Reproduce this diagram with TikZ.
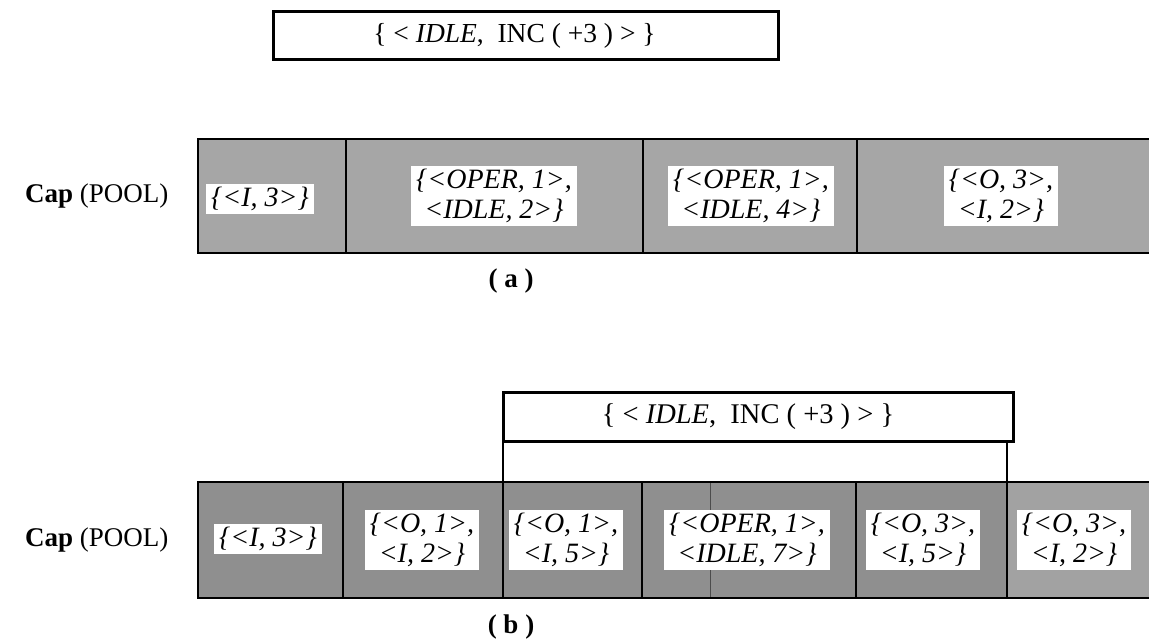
\documentclass[tikz,border=0pt]{standalone}
\usepackage{fontspec}
\setmainfont{Liberation Serif}
\definecolor{fillA}{HTML}{A6A6A6}
\definecolor{fillB}{HTML}{8F8F8F}
\definecolor{fillC}{HTML}{A2A2A2}
\begin{document}
\begin{tikzpicture}[x=1pt,y=-1pt,
  opbox/.style={draw=black,line width=3pt,fill=white,inner sep=0pt},
  boxtext/.style={inner sep=0pt},
  lbl/.style={fill=white,inner xsep=5pt,inner ysep=3pt,align=center,
    font=\fontsize{28}{30}\selectfont\itshape},
  barline/.style={line width=2.8pt,line cap=rect},
  thinline/.style={line width=1.5pt},
  caplabel/.style={font=\fontsize{27}{30}\selectfont,anchor=east},
  sublabel/.style={font=\fontsize{27}{30}\selectfont\bfseries}]
\useasboundingbox (0,0) rectangle (1149,644);

% ---------- (a) ----------
\node[opbox,minimum width=505pt,minimum height=48pt] (ta) at (525.5,36) {};
\node[boxtext,font=\fontsize{27.5}{30}\selectfont] (tat) at ([xshift=-11pt]ta.center)
  {\{ < \textit{IDLE},\ \ INC ( +3 ) > \}};

\fill[fillA] (198,139) rectangle (1149,253);
\draw[barline] (1149,139) -- (198,139) -- (198,253) -- (1149,253);
\foreach \x in {346,643,857} \draw[barline] (\x,139) -- (\x,253);

\node[caplabel] (capa) at (172,196) {\textbf{Cap} (POOL)};
\node[lbl] (a1) at (260,199) {\{<I, 3>\}};
\node[lbl] (a2) at (494,196) {\{<OPER, 1>,\\ <IDLE, 2>\}};
\node[lbl] (a3) at (751,196) {\{<OPER, 1>,\\ <IDLE, 4>\}};
\node[lbl] (a4) at (1001,196) {\{<O, 3>,\\ <I, 2>\}};
\node[sublabel] (la) at (511,281) {( a )};

% ---------- (b) ----------
\node[opbox,minimum width=510pt,minimum height=49pt] (tb) at (758,416.5) {};
\node[boxtext,font=\fontsize{28.5}{30}\selectfont] (tbt) at ([xshift=-10pt]tb.center)
  {\{ < \textit{IDLE},\ \ INC ( +3 ) > \}};

\fill[fillB] (198,482) rectangle (1007,598);
\fill[fillC] (1007,482) rectangle (1149,598);
\draw[line width=1pt,black!70] (710,482) -- (710,598);
\draw[barline] (1149,482) -- (198,482) -- (198,598) -- (1149,598);
\foreach \x in {343,503,642,856,1007} \draw[barline] (\x,482) -- (\x,598);

\coordinate (bl) at (503,482);
\coordinate (br) at (1007,482);
\draw[thinline] (tb.south west -| bl) -- (bl);
\draw[thinline] (tb.south west -| br) -- (br);

\node[caplabel] (capb) at (172,540) {\textbf{Cap} (POOL)};
\node[lbl] (b1) at (268,539) {\{<I, 3>\}};
\node[lbl] (b2) at (422,540) {\{<O, 1>,\\ <I, 2>\}};
\node[lbl] (b3) at (566,540) {\{<O, 1>,\\ <I, 5>\}};
\node[lbl] (b4) at (747,540) {\{<OPER, 1>,\\ <IDLE, 7>\}};
\node[lbl] (b5) at (923,540) {\{<O, 3>,\\ <I, 5>\}};
\node[lbl] (b6) at (1074,540) {\{<O, 3>,\\ <I, 2>\}};
\node[sublabel] (lb) at (511,627) {( b )};
\end{tikzpicture}
\end{document}
